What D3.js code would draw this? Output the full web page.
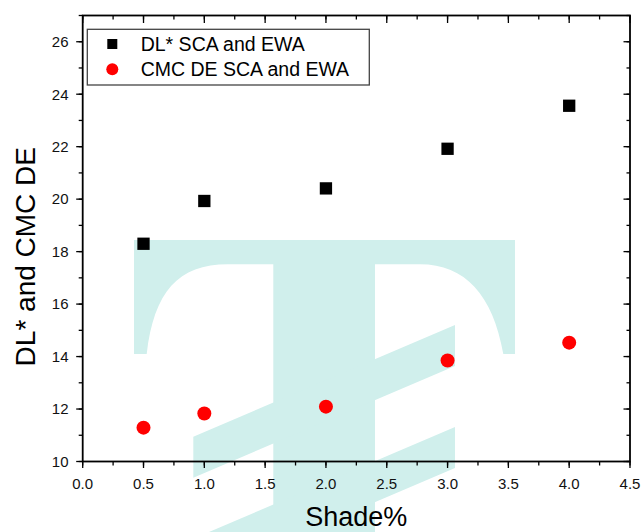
<!DOCTYPE html>
<html>
<head>
<meta charset="utf-8">
<script src="https://cdn.jsdelivr.net/npm/d3@7"></script>
<style>
  html, body { margin: 0; padding: 0; background: #fff; }
  svg { display: block; font-family: "Liberation Sans", Arial, sans-serif; }
</style>
</head>
<body>
<svg id="chart" width="641" height="532"></svg>
<script>
/* ── DATA ───────────────────────────────────────── */
const shadePct   = [0.5, 1.0, 2.0, 3.0, 4.0];
const dlValues   = [18.3, 19.93, 20.41, 21.92, 23.56];
const cmcValues  = [11.29, 11.83, 12.09, 13.85, 14.53];
const seriesNames = ['DL* SCA and EWA', 'CMC DE SCA and EWA'];
const xTicks     = [0, 0.5, 1, 1.5, 2, 2.5, 3, 3.5, 4, 4.5];
const yTicks     = [10, 12, 14, 16, 18, 20, 22, 24, 26];

/* ── LAYOUT ─────────────────────────────────────── */
const W = 641, H = 532;
const M = { left: 82.7, right: 630, top: 15.5, bottom: 461.5 };
const TEAL = '#d0efec';

const svg = d3.select('#chart');
const x = d3.scaleLinear().domain([0, 4.5]).range([M.left, M.right]);
const y = d3.scaleLinear().domain([10, 27]).range([M.bottom, M.top]);

/* ── WATERMARK (background logo, not data) ──────── */
function drawWatermark() {
  const g = svg.append('g').attr('fill', TEAL);
  g.append('path').attr('d',
    'M134,240 H515 V354 H503.3 C493,295 465,264.3 420,264.3 H375 V532 H273.3 V264.3 H228 ' +
    'C178,264.3 154,292 146.7,354 H134 Z');
  const slope = -0.427, band = 41, x0 = 193.3, x1 = 455;
  [436.7, 538.7].forEach(top => {
    const yr = top + slope * (x1 - x0);
    g.append('path').attr('d',
      `M${x0},${top} L${x1},${yr} V${yr + band} L${x0},${top + band} Z`);
  });
}
drawWatermark();

/* ── AXES ───────────────────────────────────────── */
const minorX = d3.range(0, 4.5001, 0.25);
const minorY = d3.range(10, 27.001, 1);

function ticks(g, vals, scale, orient, len) {
  g.selectAll(null).data(vals).enter().append('line')
    .attr('stroke', '#000').attr('stroke-width', 1.3)
    .each(function(d) {
      const s = d3.select(this), p = scale(d);
      if (orient === 'bottom') s.attr('x1', p).attr('x2', p).attr('y1', M.bottom).attr('y2', M.bottom + len);
      if (orient === 'top')    s.attr('x1', p).attr('x2', p).attr('y1', M.top).attr('y2', M.top + len);
      if (orient === 'left')   s.attr('y1', p).attr('y2', p).attr('x1', M.left).attr('x2', M.left - len);
      if (orient === 'right')  s.attr('y1', p).attr('y2', p).attr('x1', M.right).attr('x2', M.right - len);
    });
}

const axes = svg.append('g');
ticks(axes, minorX, x, 'bottom', 4);
ticks(axes, xTicks, x, 'bottom', 6.5);
ticks(axes, minorX, x, 'top', 4);
ticks(axes, xTicks, x, 'top', 7.5);
ticks(axes, minorY, y, 'left', 4);
ticks(axes, yTicks, y, 'left', 6.5);
ticks(axes, minorY, y, 'right', 3.5);
ticks(axes, yTicks, y, 'right', 6.5);

axes.append('rect')
  .attr('x', M.left).attr('y', M.top)
  .attr('width', M.right - M.left).attr('height', M.bottom - M.top)
  .attr('fill', 'none').attr('stroke', '#000').attr('stroke-width', 1.8);

axes.selectAll('.xl').data(xTicks).enter().append('text')
  .attr('x', d => x(d)).attr('y', 489)
  .attr('text-anchor', 'middle').attr('font-size', 15).attr('fill', '#111')
  .text(d => d.toFixed(1));

axes.selectAll('.yl').data(yTicks).enter().append('text')
  .attr('x', 68.5).attr('y', d => y(d) + 5.3)
  .attr('text-anchor', 'end').attr('font-size', 15).attr('fill', '#111')
  .text(d => d);

// sits right at the bottom edge, as in the source image
svg.append('text')
  .attr('x', (M.left + M.right) / 2).attr('y', 525.5)
  .attr('text-anchor', 'middle').attr('font-size', 27)
  .text('Shade%');

svg.append('text')
  .attr('transform', 'translate(35,256.7) rotate(-90)')
  .attr('text-anchor', 'middle').attr('font-size', 28)
  .text('DL* and CMC DE');

/* ── POINTS ─────────────────────────────────────── */
const sq = 12.3;
svg.append('g').selectAll('rect').data(shadePct).enter().append('rect')
  .attr('x', (d) => x(d) - sq / 2)
  .attr('y', (d, i) => y(dlValues[i]) - sq / 2)
  .attr('width', sq).attr('height', sq).attr('fill', '#000');

svg.append('g').selectAll('circle').data(shadePct).enter().append('circle')
  .attr('cx', d => x(d))
  .attr('cy', (d, i) => y(cmcValues[i]))
  .attr('r', 7).attr('fill', '#ff0000');

/* ── LEGEND ─────────────────────────────────────── */
const lg = svg.append('g');
lg.append('rect')
  .attr('x', 87.3).attr('y', 29.3).attr('width', 282).attr('height', 55.7)
  .attr('fill', '#fff').attr('stroke', '#444').attr('stroke-width', 1.3);
lg.append('rect').attr('x', 107.3).attr('y', 39).attr('width', 10).attr('height', 10).attr('fill', '#000');
lg.append('circle').attr('cx', 112.3).attr('cy', 69.3).attr('r', 6).attr('fill', '#ff0000');
lg.selectAll('text').data(seriesNames).enter().append('text')
  .attr('x', 140.7).attr('y', (d, i) => 50.5 + i * 25)
  .attr('font-size', 19.5).text(d => d);
</script>
</body>
</html>
